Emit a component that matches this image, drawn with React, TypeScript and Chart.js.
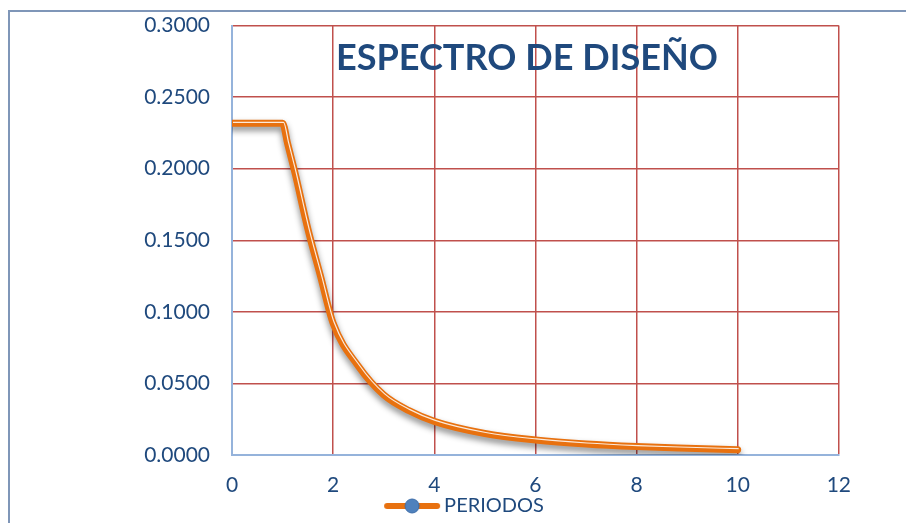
import React, { useEffect, useRef } from "react";
import { Chart, registerables } from "chart.js";

Chart.register(...registerables);

// Periodo T (s) y aceleración espectral Sa/g
const periods = [0, 0.5, 1.0, 1.1, 1.25, 1.5, 1.75, 2.0, 2.5, 3.0, 3.5, 4.0, 5.0, 6.0, 7.0, 8.0, 9.0, 10.0];
const saValues = [0.2317, 0.2317, 0.2317, 0.2175, 0.1965, 0.158, 0.125, 0.092, 0.062, 0.042, 0.031, 0.0235, 0.015, 0.0105, 0.0077, 0.0059, 0.0047, 0.0037];

const xTicks = [0, 2, 4, 6, 8, 10, 12];
const yTicks = [0, 0.05, 0.1, 0.15, 0.2, 0.25, 0.3];

const seriesName = "PERIODOS";
const titleText = "ESPECTRO DE DISEÑO";

const NAVY = "#1F497D";
const ORANGE = "#E8710F";
const GRID_RED = "#C0504D";
const AXIS_BLUE = "#95B3DB";
const FONT = "Lato, 'Open Sans', sans-serif";

function makeLegendMarker(): HTMLCanvasElement {
  const c = document.createElement("canvas");
  c.width = 58;
  c.height = 18;
  const g = c.getContext("2d")!;
  g.strokeStyle = ORANGE;
  g.lineWidth = 6;
  g.lineCap = "round";
  g.beginPath();
  g.moveTo(4, 9);
  g.lineTo(54, 9);
  g.stroke();
  g.fillStyle = "#4F81BD";
  g.strokeStyle = "#3C6CA8";
  g.lineWidth = 1;
  g.beginPath();
  g.arc(29, 9, 7, 0, Math.PI * 2);
  g.fill();
  g.stroke();
  return c;
}

// Sombra bajo la curva y brillo desplazado sobre ella
const lineEffects = {
  id: "lineEffects",
  beforeDatasetDraw(chart: any, args: any) {
    const ctx = chart.ctx;
    ctx.save();
    if (args.index === 0) {
      ctx.shadowColor = "rgba(0,0,0,0.45)";
      ctx.shadowBlur = 6;
      ctx.shadowOffsetX = 0;
      ctx.shadowOffsetY = 4;
    } else {
      ctx.translate(1, -1);
    }
  },
  afterDatasetDraw(chart: any) {
    chart.ctx.restore();
  },
};

// Título dentro del área de trazado
const innerTitle = {
  id: "innerTitle",
  afterDraw(chart: any) {
    const { ctx, chartArea } = chart;
    const targetWidth = 382;
    ctx.save();
    ctx.font = `bold 37px ${FONT}`;
    ctx.fillStyle = NAVY;
    ctx.textBaseline = "alphabetic";
    ctx.textAlign = "center";
    const w = ctx.measureText(titleText).width;
    const cx = chartArea.left + (chartArea.right - chartArea.left) * 0.486;
    ctx.translate(cx, chartArea.top + 44);
    ctx.scale(targetWidth / w, 1);
    ctx.fillText(titleText, 0, 0);
    ctx.restore();
  },
};

export default function App() {
  const canvasRef = useRef<HTMLCanvasElement | null>(null);

  useEffect(() => {
    const canvas = canvasRef.current;
    if (!canvas) return;
    const marker = makeLegendMarker();
    const points = periods.map((t, i) => ({ x: t, y: saValues[i] }));

    const chart = new Chart(canvas, {
      type: "line",
      data: {
        datasets: [
          {
            label: seriesName,
            data: points,
            borderColor: ORANGE,
            backgroundColor: ORANGE,
            borderWidth: 7,
            pointRadius: 0,
            pointStyle: marker as any,
            cubicInterpolationMode: "monotone",
            borderCapStyle: "round",
            borderJoinStyle: "round",
            order: 2,
          },
          {
            label: "brillo",
            data: points,
            borderColor: "rgba(255,255,255,0.85)",
            borderWidth: 1.2,
            pointRadius: 0,
            cubicInterpolationMode: "monotone",
            order: 1,
          },
        ],
      },
      options: {
        responsive: false,
        animation: false,
        events: [],
        layout: { padding: 0 },
        scales: {
          x: {
            type: "linear",
            min: xTicks[0],
            max: xTicks[xTicks.length - 1],
            afterBuildTicks: (scale: any) => {
              scale.ticks = xTicks.map((v) => ({ value: v }));
            },
            afterFit: (scale: any) => {
              scale.height = 37;
            },
            ticks: {
              color: NAVY,
              font: { family: FONT, size: 21 },
              padding: 18,
              maxRotation: 0,
            },
            grid: {
              drawTicks: false,
              lineWidth: 1.5,
              color: (c: any) => (c.tick && c.tick.value === 0 ? "rgba(0,0,0,0)" : GRID_RED),
            },
            border: { color: AXIS_BLUE, width: 2 },
          },
          y: {
            min: yTicks[0],
            max: yTicks[yTicks.length - 1],
            afterBuildTicks: (scale: any) => {
              scale.ticks = yTicks.map((v) => ({ value: v }));
            },
            afterFit: (scale: any) => {
              scale.width = 167;
            },
            ticks: {
              color: NAVY,
              font: { family: FONT, size: 21 },
              padding: 22,
              callback: (v: any) => Number(v).toFixed(4),
            },
            grid: {
              drawTicks: false,
              lineWidth: 1.5,
              color: (c: any) => (c.tick && c.tick.value === 0 ? "rgba(0,0,0,0)" : GRID_RED),
            },
            border: { color: AXIS_BLUE, width: 2 },
          },
        },
        plugins: {
          legend: {
            position: "bottom",
            labels: {
              usePointStyle: true,
              pointStyleWidth: 44,
              padding: 4,
              color: NAVY,
              font: { family: FONT, size: 20 },
              filter: (item: any) => item.datasetIndex === 0,
            },
          },
          tooltip: { enabled: false },
          title: { display: false },
        },
      },
      plugins: [lineEffects, innerTitle],
    } as any);

    return () => chart.destroy();
  }, []);

  return (
    <div style={{ position: "fixed", left: 0, top: 0, width: 906, height: 523, overflow: "hidden", background: "#fff" }}>
      <div
        style={{
          position: "absolute",
          left: 8,
          top: 10,
          width: 910,
          height: 530,
          borderLeft: "2px solid #7F96B8",
          borderTop: "2px solid #7F96B8",
          boxSizing: "border-box",
        }}
      />
      <canvas
        ref={canvasRef}
        width={804}
        height={535}
        style={{ position: "absolute", left: 65, top: -9, width: 804, height: 535 }}
      />
    </div>
  );
}
